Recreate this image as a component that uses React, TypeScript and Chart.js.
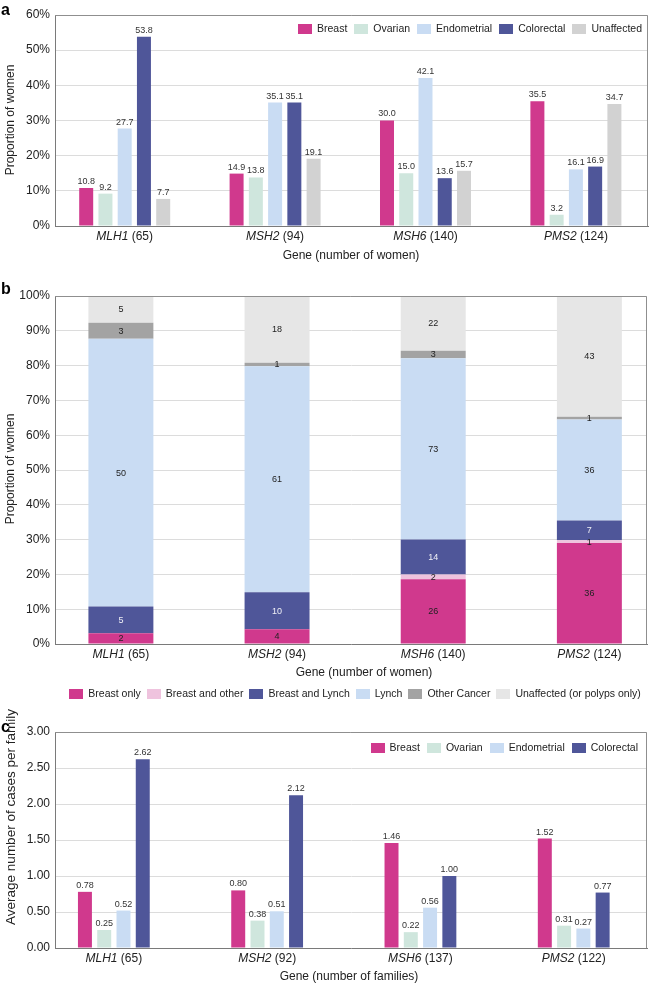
import React, { useEffect, useRef } from 'react';
import { Chart, registerables } from 'chart.js';

Chart.register(...registerables);

const FONT = '"Liberation Sans", Arial, Helvetica, sans-serif';
const TEXT = '#222222';
const AXIS = '#7a7a7a';
const FRAME = '#8f8f8f';
const GRID = '#dcdcdc';

// ---------- shared categories ----------
const genes = ['MLH1', 'MSH2', 'MSH6', 'PMS2'];

// ---------- panel a ----------
const womenA = [65, 94, 140, 124];
const seriesA = ['Breast', 'Ovarian', 'Endometrial', 'Colorectal', 'Unaffected'];
const breastA = [10.8, 14.9, 30.0, 35.5];
const ovarianA = [9.2, 13.8, 15.0, 3.2];
const endometrialA = [27.7, 35.1, 42.1, 16.1];
const colorectalA = [53.8, 35.1, 13.6, 16.9];
const unaffectedA = [7.7, 19.1, 15.7, 34.7];
const colorsA = ['#d0398d', '#cfe6dd', '#c9dcf3', '#4f5699', '#d2d2d2'];

// ---------- panel b ----------
const womenB = [65, 94, 140, 124];
const seriesB = ['Breast only', 'Breast and other', 'Breast and Lynch', 'Lynch', 'Other Cancer', 'Unaffected (or polyps only)'];
const breastOnlyB = [2, 4, 26, 36];
const breastOtherB = [0, 0, 2, 1];
const breastLynchB = [5, 10, 14, 7];
const lynchB = [50, 61, 73, 36];
const otherCancerB = [3, 1, 3, 1];
const unaffectedB = [5, 18, 22, 43];
const colorsB = ['#d0398d', '#efc3de', '#4f5699', '#c9dcf3', '#a3a3a3', '#e6e6e6'];

// ---------- panel c ----------
const familiesC = [65, 92, 137, 122];
const seriesC = ['Breast', 'Ovarian', 'Endometrial', 'Colorectal'];
const breastC = [0.78, 0.80, 1.46, 1.52];
const ovarianC = [0.25, 0.38, 0.22, 0.31];
const endometrialC = [0.52, 0.51, 0.56, 0.27];
const colorectalC = [2.62, 2.12, 1.00, 0.77];
const colorsC = ['#d0398d', '#cfe6dd', '#c9dcf3', '#4f5699'];

type LayoutCfg = {
  height: number;
  plot: { t: number; b: number; l: number; r: number };
  xMin: number;
  xMax: number;
  letter: string;
  letterY: number;
  tickY: number;
  tickCounts: number[];
  xTitle: string;
  xTitleX: number;
  xTitleY: number;
  yTitle: string;
  yTitleX: number;
  yTitleY: number;
  yTitleSize: number;
  legendMode: 'right' | 'center';
  legendX: number;
  legendY: number;
  legendGap: number;
};

function decorPlugin(L: LayoutCfg, labelText: string[][], labelMode: 'top' | 'center', labelColor: (k: number) => string) {
  return {
    id: 'decor' + L.letter,
    afterDatasetsDraw(chart: any) {
      const ctx = chart.ctx;
      ctx.save();
      ctx.font = `9px ${FONT}`;
      ctx.textAlign = 'center';
      chart.data.datasets.forEach((_: any, k: number) => {
        const meta = chart.getDatasetMeta(k);
        meta.data.forEach((el: any, i: number) => {
          const txt = labelText[k][i];
          if (!txt) return;
          const p = el.getProps(['x', 'y', 'base'], true);
          ctx.fillStyle = labelColor(k);
          if (labelMode === 'top') {
            ctx.textBaseline = 'bottom';
            ctx.fillText(txt, p.x, p.y - 2);
          } else {
            ctx.textBaseline = 'middle';
            ctx.fillText(txt, p.x, (p.y + p.base) / 2 + 0.5);
          }
        });
      });
      ctx.restore();
    },
    afterDraw(chart: any) {
      const ctx = chart.ctx;
      const ca = chart.chartArea;
      const xs = chart.scales.x;
      ctx.save();
      // frame (top, right)
      ctx.strokeStyle = FRAME;
      ctx.lineWidth = 1;
      ctx.beginPath();
      ctx.moveTo(Math.round(ca.left), Math.round(ca.top) + 0.5);
      ctx.lineTo(Math.round(ca.right) - 0.5, Math.round(ca.top) + 0.5);
      ctx.lineTo(Math.round(ca.right) - 0.5, Math.round(ca.bottom));
      ctx.stroke();

      // panel letter
      ctx.fillStyle = '#000';
      ctx.font = `bold 16px ${FONT}`;
      ctx.textAlign = 'left';
      ctx.textBaseline = 'alphabetic';
      ctx.fillText(L.letter, 1, L.letterY);

      // category labels: italic gene + upright count
      ctx.fillStyle = TEXT;
      ctx.textBaseline = 'middle';
      genes.forEach((g, i) => {
        const cx = xs.getPixelForValue(i);
        const rest = ` (${L.tickCounts[i]})`;
        ctx.font = `italic 12px ${FONT}`;
        const w1 = ctx.measureText(g).width;
        ctx.font = `12px ${FONT}`;
        const w2 = ctx.measureText(rest).width;
        const x0 = cx - (w1 + w2) / 2;
        ctx.textAlign = 'left';
        ctx.font = `italic 12px ${FONT}`;
        ctx.fillText(g, x0, L.tickY);
        ctx.font = `12px ${FONT}`;
        ctx.fillText(rest, x0 + w1, L.tickY);
      });

      // axis titles
      ctx.font = `12px ${FONT}`;
      ctx.textAlign = 'center';
      ctx.fillText(L.xTitle, L.xTitleX, L.xTitleY);
      ctx.save();
      ctx.font = `${L.yTitleSize}px ${FONT}`;
      ctx.translate(L.yTitleX, L.yTitleY);
      ctx.rotate(-Math.PI / 2);
      ctx.fillText(L.yTitle, 0, 0);
      ctx.restore();

      // legend
      const items = chart.data.datasets.map((d: any) => ({ label: d.label as string, color: d.backgroundColor as string }));
      ctx.font = `10.5px ${FONT}`;
      const boxW = 14, boxH = 10, gap = 5, itemGap = L.legendGap;
      const widths = items.map((it: any) => boxW + gap + ctx.measureText(it.label).width);
      const total = widths.reduce((a: number, b: number) => a + b, 0) + itemGap * (items.length - 1);
      let x = L.legendMode === 'right' ? L.legendX - total : L.legendX - total / 2;
      ctx.textAlign = 'left';
      ctx.textBaseline = 'middle';
      items.forEach((it: any, k: number) => {
        ctx.fillStyle = it.color;
        ctx.fillRect(Math.round(x), Math.round(L.legendY - boxH / 2), boxW, boxH);
        ctx.fillStyle = TEXT;
        ctx.fillText(it.label, x + boxW + gap, L.legendY + 0.5);
        x += widths[k] + itemGap;
      });
      ctx.restore();
    },
  };
}

function makeConfig(
  L: LayoutCfg,
  datasets: any[],
  y: { min: number; max: number; step: number; fmt: (v: number) => string },
  stacked: boolean,
  labelText: string[][],
  labelMode: 'top' | 'center',
  labelColor: (k: number) => string
): any {
  return {
    type: 'bar',
    data: { datasets },
    options: {
      animation: false,
      responsive: false,
      maintainAspectRatio: false,
      events: [],
      layout: { padding: { top: L.plot.t, right: 650 - L.plot.r, bottom: 0, left: 0 } },
      plugins: { legend: { display: false }, tooltip: { enabled: false }, title: { display: false } },
      scales: {
        x: {
          type: 'linear',
          min: L.xMin,
          max: L.xMax,
          offset: false,
          stacked,
          afterBuildTicks: (axis: any) => {
            axis.ticks = genes.map((_, i) => ({ value: i }));
          },
          ticks: { display: false },
          grid: { display: false, offset: false },
          border: { display: true, color: AXIS, width: 1 },
          afterFit: (axis: any) => {
            axis.height = L.height - L.plot.b;
          },
        },
        y: {
          type: 'linear',
          min: y.min,
          max: y.max,
          stacked,
          ticks: {
            stepSize: y.step,
            padding: 5,
            color: TEXT,
            font: { family: FONT, size: 12 },
            callback: (v: any) => y.fmt(Number(v)),
          },
          grid: { color: GRID, drawTicks: false, lineWidth: 1 },
          border: { display: true, color: AXIS, width: 1 },
          afterFit: (axis: any) => {
            axis.width = L.plot.l;
          },
        },
      },
    },
    plugins: [decorPlugin(L, labelText, labelMode, labelColor)],
  };
}

// ---------- layouts ----------
const layoutA: LayoutCfg = {
  height: 264,
  plot: { t: 15, b: 226, l: 55, r: 648 },
  xMin: -0.4634,
  xMax: 3.4794,
  letter: 'a',
  letterY: 15,
  tickY: 237,
  tickCounts: womenA,
  xTitle: 'Gene (number of women)',
  xTitleX: 351,
  xTitleY: 256,
  yTitle: 'Proportion of women',
  yTitleX: 11,
  yTitleY: 120,
  yTitleSize: 12,
  legendMode: 'right',
  legendX: 642,
  legendY: 29,
  legendGap: 7,
};

const layoutB: LayoutCfg = {
  height: 436,
  plot: { t: 32, b: 380, l: 55, r: 647 },
  xMin: -0.422,
  xMax: 3.369,
  letter: 'b',
  letterY: 30,
  tickY: 391,
  tickCounts: womenB,
  xTitle: 'Gene (number of women)',
  xTitleX: 364,
  xTitleY: 409,
  yTitle: 'Proportion of women',
  yTitleX: 11,
  yTitleY: 205,
  yTitleSize: 12,
  legendMode: 'center',
  legendX: 355,
  legendY: 430,
  legendGap: 6,
};

const layoutC: LayoutCfg = {
  height: 284,
  plot: { t: 32, b: 248, l: 55, r: 647 },
  xMin: -0.3839,
  xMax: 3.478,
  letter: 'c',
  letterY: 32,
  tickY: 259,
  tickCounts: familiesC,
  xTitle: 'Gene (number of families)',
  xTitleX: 349,
  xTitleY: 277,
  yTitle: 'Average number of cases per family',
  yTitleX: 11,
  yTitleY: 117,
  yTitleSize: 13.5,
  legendMode: 'right',
  legendX: 638,
  legendY: 48,
  legendGap: 7,
};

function configA() {
  const vals = [breastA, ovarianA, endometrialA, colorectalA, unaffectedA];
  const datasets = seriesA.map((name, k) => ({
    label: name,
    data: vals[k].map((v, i) => ({ x: i, y: v })),
    backgroundColor: colorsA[k],
    borderWidth: 0,
    categoryPercentage: 0.64,
    barPercentage: 0.727,
  }));
  const text = vals.map((arr) => arr.map((v) => v.toFixed(1)));
  return makeConfig(layoutA, datasets, { min: 0, max: 60, step: 10, fmt: (v) => `${v}%` }, false, text, 'top', () => '#333');
}

function configB() {
  const counts = [breastOnlyB, breastOtherB, breastLynchB, lynchB, otherCancerB, unaffectedB];
  const datasets = seriesB.map((name, k) => ({
    label: name,
    data: counts[k].map((c, i) => ({ x: i, y: (c / womenB[i]) * 100 })),
    backgroundColor: colorsB[k],
    borderWidth: 0,
    categoryPercentage: 0.416,
    barPercentage: 1,
  }));
  const text = counts.map((arr) => arr.map((c) => (c > 0 ? String(c) : '')));
  return makeConfig(
    layoutB,
    datasets,
    { min: 0, max: 100, step: 10, fmt: (v) => `${v}%` },
    true,
    text,
    'center',
    (k) => (k === 2 ? '#f0f0f6' : '#222')
  );
}

function configC() {
  const vals = [breastC, ovarianC, endometrialC, colorectalC];
  const datasets = seriesC.map((name, k) => ({
    label: name,
    data: vals[k].map((v, i) => ({ x: i, y: v })),
    backgroundColor: colorsC[k],
    borderWidth: 0,
    categoryPercentage: 0.503,
    barPercentage: 0.725,
  }));
  const text = vals.map((arr) => arr.map((v) => v.toFixed(2)));
  return makeConfig(layoutC, datasets, { min: 0, max: 3, step: 0.5, fmt: (v) => v.toFixed(2) }, false, text, 'top', () => '#333');
}

function Panel({ top, height, make }: { top: number; height: number; make: () => any }) {
  const ref = useRef<HTMLCanvasElement>(null);
  useEffect(() => {
    if (!ref.current) return;
    const chart = new Chart(ref.current, make());
    return () => chart.destroy();
  }, []);
  return (
    <canvas
      ref={ref}
      width={650}
      height={height}
      style={{ position: 'absolute', left: 0, top, width: 650, height, display: 'block' }}
    />
  );
}

export default function App() {
  return (
    <div style={{ position: 'absolute', left: 0, top: 0, width: 650, height: 984, background: '#fff', overflow: 'hidden' }}>
      <Panel top={0} height={264} make={configA} />
      <Panel top={264} height={436} make={configB} />
      <Panel top={700} height={284} make={configC} />
    </div>
  );
}
